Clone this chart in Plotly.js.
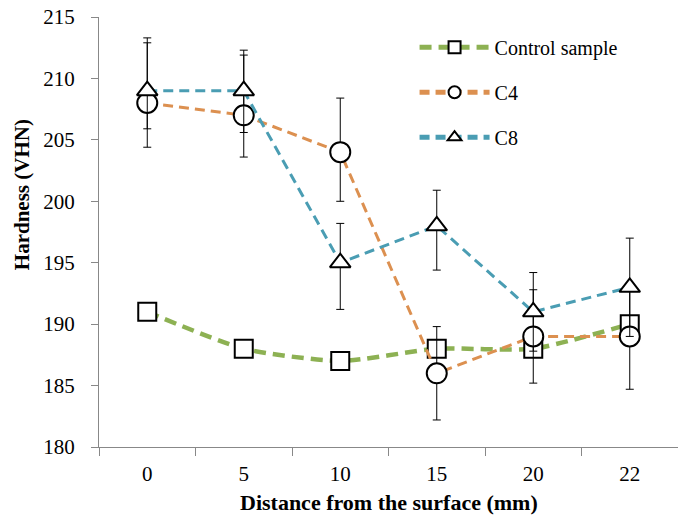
<!DOCTYPE html>
<html>
<head>
<meta charset="utf-8">
<script src="https://cdn.plot.ly/plotly-3.0.1.min.js"></script>
<style>html,body{margin:0;padding:0;background:#fff;}#chart{width:678px;height:518px;}</style>
</head>
<body>
<div id="chart"></div>
<script>
const categories = ['0', '5', '10', '15', '20', '22'];
const controlValues = [191, 188, 187, 188, 188, 190];
const c4Values = [208, 207, 204, 186, 189, 189];
const c4ErrPlus = [4.9, 4.9, 4.4, 3.8, 3.8, 4.3];
const c4ErrMinus = [3.6, 3.4, 4.0, 3.8, 3.8, 4.3];
const c8Values = [209, 209, 195, 198, 191, 193];
const c8ErrPlus = [4.3, 3.3, 3.2, 2.9, 3.2, 4.0];
const c8ErrMinus = [3.1, 3.4, 3.8, 3.6, 3.2, 4.0];
const yTicks = [180, 185, 190, 195, 200, 205, 210, 215];

const serif = '"Liberation Serif", "Times New Roman", Times, serif';
const markerBase = {color: '#ffffff', line: {color: '#000000', width: 2}};

const traces = [
  {
    x: categories, y: controlValues, name: 'Control sample', type: 'scatter', mode: 'lines+markers',
    legendgroup: 'a',
    line: {color: '#8db153', width: 4.5, dash: '12px,7px', shape: 'spline', smoothing: 0.6},
    marker: Object.assign({symbol: 'square', size: 18}, markerBase)
  },
  {
    x: categories, y: c4Values, name: 'C4', type: 'scatter', mode: 'lines+markers',
    legendgroup: 'b',
    line: {color: '#dc9050', width: 3, dash: '10px,6px'},
    marker: Object.assign({symbol: 'circle', size: 20}, markerBase),
    error_y: {type: 'data', symmetric: false, array: c4ErrPlus, arrayminus: c4ErrMinus, color: '#000000', thickness: 1, width: 4}
  },
  {
    x: categories, y: c8Values, name: 'C8', type: 'scatter', mode: 'lines+markers',
    legendgroup: 'c',
    line: {color: '#4a9db3', width: 3, dash: '10px,6px'},
    marker: Object.assign({symbol: 'triangle-up', size: 18}, markerBase),
    error_y: {type: 'data', symmetric: false, array: c8ErrPlus, arrayminus: c8ErrMinus, color: '#000000', thickness: 1, width: 4}
  }
];

const layout = {
  width: 678, height: 518,
  margin: {l: 99, r: 0, t: 17, b: 71},
  paper_bgcolor: '#ffffff', plot_bgcolor: '#ffffff',
  font: {family: serif, color: '#000000'},
  showlegend: true,
  legend: {
    x: 0.545, y: 0.975, xanchor: 'left', yanchor: 'top',
    font: {family: serif, size: 20, color: '#000000'},
    itemsizing: 'constant', itemwidth: 70, tracegroupgap: 16,
    bgcolor: 'rgba(0,0,0,0)'
  },
  xaxis: {
    type: 'category', range: [-0.5, 5.5], tickson: 'boundaries',
    showgrid: false, zeroline: false,
    showline: true, linecolor: '#888888', linewidth: 1,
    ticks: 'outside', ticklen: 8, tickcolor: '#888888',
    tickfont: {family: serif, size: 21, color: '#000000'},
    ticklabelstandoff: 8
  },
  yaxis: {
    range: [180, 215], tickvals: yTicks, ticktext: yTicks.map(String),
    showgrid: false, zeroline: false,
    showline: true, linecolor: '#888888', linewidth: 1,
    ticks: 'outside', ticklen: 7, tickcolor: '#888888',
    tickfont: {family: serif, size: 21, color: '#000000'},
    ticklabelstandoff: 12
  },
  annotations: [
    {text: '<b>Distance from the surface (mm)</b>', xref: 'paper', yref: 'paper', x: 0.5, y: -0.13,
     xanchor: 'center', yanchor: 'middle', showarrow: false, font: {family: serif, size: 22, color: '#000000'}},
    {text: '<b>Hardness (VHN)</b>', xref: 'paper', yref: 'paper', x: -0.133, y: 0.588, textangle: -90,
     xanchor: 'center', yanchor: 'middle', showarrow: false, font: {family: serif, size: 21, color: '#000000'}}
  ]
};

Plotly.newPlot('chart', traces, layout, {displayModeBar: false, staticPlot: true});
</script>
</body>
</html>
